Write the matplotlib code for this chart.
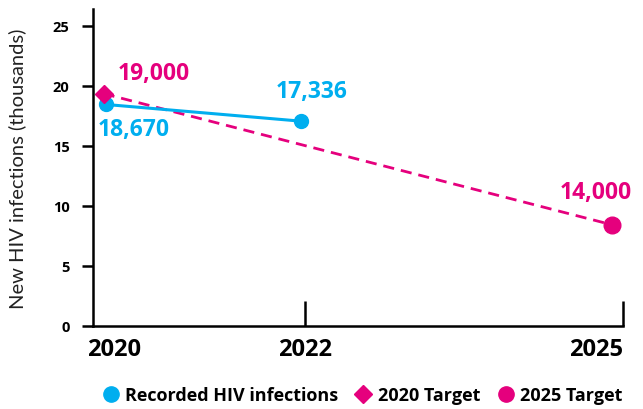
import matplotlib
matplotlib.use("Agg")
import matplotlib.pyplot as plt
from matplotlib.lines import Line2D
import matplotlib.transforms as mtransforms

# Data (positions)
rec_years = [2020.12, 2021.96]
rec_values = [18.45, 17.06]
rec_labels = ["18,670", "17,336"]

target_years = [2020.10, 2024.90]
target_values = [19.35, 8.42]
target_labels = ["19,000", "14,000"]

xticks = [2020, 2022, 2025]
yticks = [0, 5, 10, 15, 20, 25]

BLUE = "#00AEEF"
PINK = "#E5007D"
FONT = "Open Sans"
W = "bold"

plt.rcParams["font.family"] = [FONT, "DejaVu Sans"]

fig = plt.figure(figsize=(6.43, 4.10), dpi=100)
ax = fig.add_axes([93/643, 1-327/410, (623-93)/643, (327-10)/410])

ax.plot(target_years, target_values, color=PINK, lw=2.0, ls=(0, (4, 2.5)), zorder=2)
ax.plot(target_years[0], target_values[0], marker="D", ms=9, color=PINK, ls="none", zorder=4)
ax.plot(target_years[1], target_values[1], marker="o", ms=12, color=PINK, ls="none", zorder=4)

ax.plot(rec_years, rec_values, color=BLUE, lw=2.2, marker="o", ms=10, zorder=3)

FS = 16.5
ax.annotate(target_labels[0], (target_years[0], target_values[0]), xytext=(10, 15),
            textcoords="offset points", ha="left", va="center", color=PINK,
            fontsize=FS, fontweight=W)
ax.annotate(target_labels[1], (target_years[1], target_values[1]), xytext=(-12, 24),
            textcoords="offset points", ha="center", va="center", color=PINK,
            fontsize=FS, fontweight=W, annotation_clip=False)
ax.annotate(rec_labels[0], (rec_years[0], rec_values[0]), xytext=(-6, -18),
            textcoords="offset points", ha="left", va="center", color=BLUE,
            fontsize=FS, fontweight=W)
ax.annotate(rec_labels[1], (rec_years[1], rec_values[1]), xytext=(-18, 22),
            textcoords="offset points", ha="left", va="center", color=BLUE,
            fontsize=FS, fontweight=W)

ax.set_xlim(2020, 2025)
ax.set_ylim(0, 26.4)

for s in ["top", "right"]:
    ax.spines[s].set_visible(False)
for s in ["left", "bottom"]:
    ax.spines[s].set_linewidth(1.8)
    ax.spines[s].set_color("black")

ax.set_yticks(yticks)
ax.set_yticklabels([str(v) for v in yticks], fontsize=10.5, fontweight=W)
ax.tick_params(axis="y", direction="out", length=8, width=1.8, pad=9)

ax.set_xticks(xticks)
ax.set_xticklabels([str(v) for v in xticks], fontsize=17, fontweight=W)
ax.tick_params(axis="x", direction="in", length=18, width=1.8, pad=8)
xt = ax.xaxis.get_major_ticks()
xt[0].tick1line.set_visible(False)
labs = ax.get_xticklabels()
labs[0].set_ha("left")
labs[2].set_ha("right")
labs[0].set_transform(labs[0].get_transform() + mtransforms.ScaledTranslation(-6/100, 0, fig.dpi_scale_trans))

ax.set_ylabel("New HIV infections (thousands)", fontsize=14.5, fontweight="normal", color="#222222",
              family=["Lato", "DejaVu Sans"])
ax.yaxis.set_label_coords(-(93-26)/530, 0.5)

handles = [
    Line2D([], [], marker="o", color=BLUE, ls="none", ms=11),
    Line2D([], [], marker="D", color=PINK, ls="none", ms=9),
    Line2D([], [], marker="o", color=PINK, ls="none", ms=11),
]
fig.legend(handles, ["Recorded HIV infections", "2020 Target", "2025 Target"],
           loc="center", bbox_to_anchor=(0.563, 1-396/410), ncol=3, frameon=False,
           prop={"family": FONT, "weight": "bold", "size": 13},
           handletextpad=0.3, columnspacing=0.9, handlelength=1.0)

fig.savefig("out.png", dpi=100)
